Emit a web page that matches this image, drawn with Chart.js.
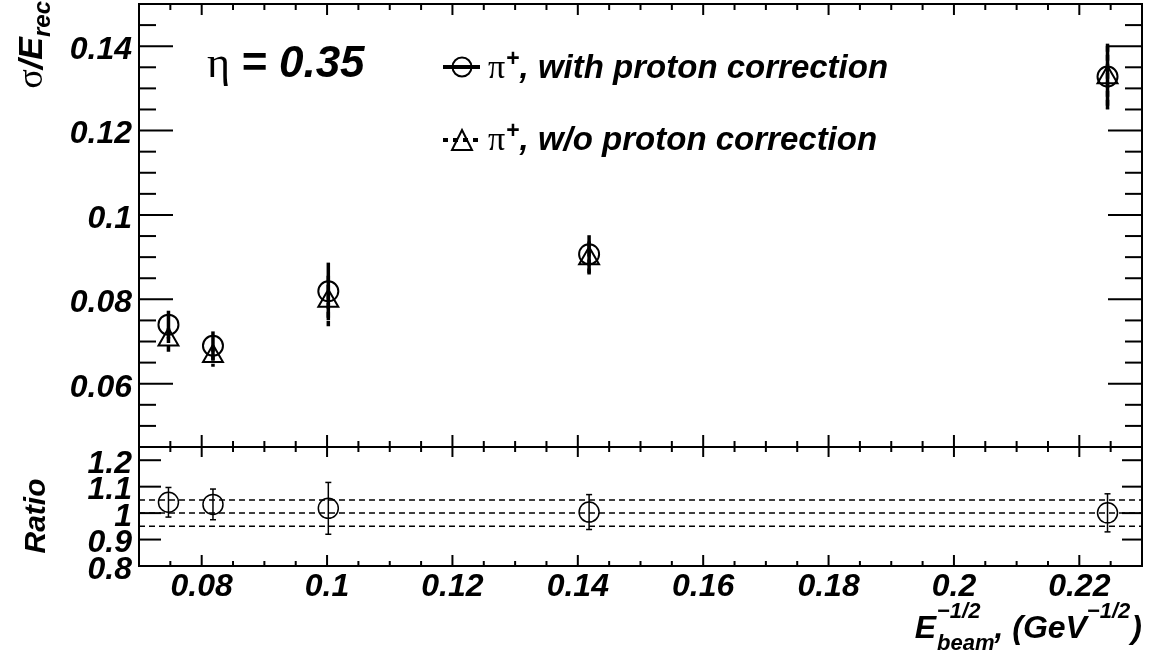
<!DOCTYPE html>
<html>
<head>
<meta charset="utf-8">
<script src="https://cdn.jsdelivr.net/npm/chart.js@4/dist/chart.umd.min.js"></script>
<style>
    html, body { margin: 0; padding: 0; background: #fff; }
    #wrap { position: relative; width: 1149px; height: 653px; }
    #wrap canvas { position: absolute; left: 0; top: 0; }
</style>
</head>
<body>
<div id="wrap">
    <canvas id="topChart" width="1149" height="653"></canvas>
    <canvas id="ratioChart" width="1149" height="653"></canvas>
</div>
<script>
// Values
const xBeam = [0.0747, 0.0818, 0.1002, 0.1418, 0.2245];
const sigmaWith = [0.0740, 0.0690, 0.0819, 0.0907, 0.1328];
const sigmaWithErr = [0.0033, 0.0034, 0.0068, 0.0045, 0.0078];
const sigmaWo = [0.0704, 0.0665, 0.0796, 0.0897, 0.1326];
const sigmaWoErr = [0.0028, 0.0025, 0.0060, 0.0040, 0.0075];
const ratioVals = [1.041, 1.033, 1.018, 1.004, 1.001];
const ratioErr = [0.056, 0.058, 0.098, 0.066, 0.072];
const ratioLines = [1.05, 1.0, 0.95];

// Tick labels
const xTicks = [0.08, 0.1, 0.12, 0.14, 0.16, 0.18, 0.2, 0.22];
const xTickLabels = ["0.08", "0.1", "0.12", "0.14", "0.16", "0.18", "0.2", "0.22"];
const yTicks = [0.06, 0.08, 0.1, 0.12, 0.14];
const yTickLabels = ["0.06", "0.08", "0.1", "0.12", "0.14"];
const ratioTicks = [0.8, 0.9, 1.0, 1.1, 1.2];
const ratioTickLabels = ["0.8", "0.9", "1", "1.1", "1.2"];

// Axis ranges
const X_MIN = 0.07, X_MAX = 0.23;
const Y_MIN = 0.045, Y_MAX = 0.15;
const R_MIN = 0.8, R_MAX = 1.25;

const SANS = '"Liberation Sans", Arial, sans-serif';
const SERIF = '"Liberation Serif", serif';
const F_MAIN = "italic bold 32px " + SANS;
const F_SMALL = "italic bold 22px " + SANS;

// Helpers for text with sub/superscripts
function partWidth(ctx, p) {
    ctx.font = p.font;
    let w = ctx.measureText(p.text).width;
    if (p.sub) {
        ctx.font = p.sub.font;
        w = Math.max(w, ctx.measureText(p.sub.text).width);
    }
    return w + (p.pad || 0);
}

function richWidth(ctx, parts) {
    return parts.reduce((s, p) => s + partWidth(ctx, p), 0);
}

function drawRich(ctx, parts, x, y) {
    let cx = x;
    ctx.textAlign = "left";
    ctx.textBaseline = "alphabetic";
    parts.forEach(p => {
        ctx.font = p.font;
        ctx.fillText(p.text, cx, y + (p.dy || 0));
        if (p.sub) {
            ctx.font = p.sub.font;
            ctx.fillText(p.sub.text, cx, y + p.sub.dy);
        }
        cx += partWidth(ctx, p);
    });
}

function line(ctx, x1, y1, x2, y2) {
    ctx.beginPath();
    ctx.moveTo(x1, y1);
    ctx.lineTo(x2, y2);
    ctx.stroke();
}

// Error bars drawn with the chart scales
const errorBarPlugin = {
    id: "errorBars",
    beforeDatasetsDraw(chart) {
        const ctx = chart.ctx;
        const a = chart.chartArea;
        const xs = chart.scales.x;
        const ys = chart.scales.y;
        ctx.save();
        ctx.beginPath();
        ctx.rect(a.left, a.top, a.right - a.left, a.bottom - a.top);
        ctx.clip();
        ctx.strokeStyle = "#000";
        chart.data.datasets.forEach(ds => {
            if (!ds.errors) return;
            ctx.lineWidth = ds.errorWidth;
            ds.data.forEach((p, i) => {
                const px = xs.getPixelForValue(p.x);
                const y1 = ys.getPixelForValue(p.y + ds.errors[i]);
                const y2 = ys.getPixelForValue(p.y - ds.errors[i]);
                ctx.setLineDash(ds.errorDash || []);
                line(ctx, px, y1, px, y2);
                ctx.setLineDash([]);
                if (ds.capWidth) {
                    line(ctx, px - ds.capWidth, y1, px + ds.capWidth, y1);
                    line(ctx, px - ds.capWidth, y2, px + ds.capWidth, y2);
                }
            });
        });
        ctx.restore();
    }
};

// Frame, ticks, labels and legend of the upper pad
const topFramePlugin = {
    id: "topFrame",
    afterDraw(chart) {
        const ctx = chart.ctx;
        const a = chart.chartArea;
        const xs = chart.scales.x;
        const ys = chart.scales.y;
        ctx.save();
        ctx.strokeStyle = "#000";
        ctx.fillStyle = "#000";
        ctx.lineWidth = 2;
        ctx.strokeRect(a.left, a.top, a.right - a.left, a.bottom - a.top);

        // y ticks, every 0.005
        for (let k = 9; k <= 30; k++) {
            const py = ys.getPixelForValue(k * 0.005);
            const len = k % 4 === 0 ? 34 : 17;
            line(ctx, a.left, py, a.left + len, py);
            line(ctx, a.right, py, a.right - len, py);
        }
        // x ticks, every 0.005
        for (let k = 14; k <= 46; k++) {
            const px = xs.getPixelForValue(k * 0.005);
            const major = k % 4 === 0;
            line(ctx, px, a.top, px, a.top + (major ? 11 : 6));
            line(ctx, px, a.bottom, px, a.bottom - (major ? 12 : 6));
        }

        // y labels
        ctx.font = F_MAIN;
        ctx.textAlign = "right";
        ctx.textBaseline = "middle";
        yTicks.forEach((v, i) => {
            ctx.fillText(yTickLabels[i], a.left - 7, ys.getPixelForValue(v) + 4);
        });

        // y title
        const yTitle = [
            { text: "\u03C3", font: "36px " + SERIF },
            { text: "/E", font: "italic bold 34px " + SANS },
            { text: "rec", font: "italic bold 24px " + SANS, dy: 8 }
        ];
        ctx.save();
        ctx.translate(42, 1);
        ctx.rotate(-Math.PI / 2);
        drawRich(ctx, yTitle, -richWidth(ctx, yTitle), 0);
        ctx.restore();

        // eta label
        drawRich(ctx, [
            { text: "\u03B7", font: "44px " + SERIF, pad: 11 },
            { text: "= 0.35", font: "italic bold 44px " + SANS }
        ], 207, 77);

        // Legend markers
        ctx.lineWidth = 4;
        line(ctx, 443, 67, 480, 67);
        ctx.lineWidth = 2;
        ctx.beginPath();
        ctx.arc(462, 67, 9.5, 0, Math.PI * 2);
        ctx.stroke();

        ctx.lineWidth = 4;
        ctx.setLineDash([5, 5]);
        line(ctx, 443, 140, 478, 140);
        ctx.setLineDash([]);
        ctx.lineWidth = 2;
        ctx.beginPath();
        ctx.moveTo(462, 130);
        ctx.lineTo(472, 150);
        ctx.lineTo(452, 150);
        ctx.closePath();
        ctx.stroke();

        // Legend texts
        const F_LEG = "italic bold 33px " + SANS;
        const F_PLUS = "bold 23px " + SANS;
        drawRich(ctx, [
            { text: "\u03C0", font: "34px " + SERIF, pad: 1 },
            { text: "+", font: F_PLUS, dy: -12 },
            { text: ", with proton correction", font: F_LEG }
        ], 488, 78);
        drawRich(ctx, [
            { text: "\u03C0", font: "34px " + SERIF, pad: 1 },
            { text: "+", font: F_PLUS, dy: -12 },
            { text: ", w/o proton correction", font: F_LEG }
        ], 488, 150);
        ctx.restore();
    }
};

// Frame, ticks and labels of the ratio pad
const ratioFramePlugin = {
    id: "ratioFrame",
    afterDraw(chart) {
        const ctx = chart.ctx;
        const a = chart.chartArea;
        const xs = chart.scales.x;
        const ys = chart.scales.y;
        ctx.save();
        ctx.strokeStyle = "#000";
        ctx.fillStyle = "#000";
        ctx.lineWidth = 2;
        ctx.strokeRect(a.left, a.top, a.right - a.left, a.bottom - a.top);

        ratioTicks.forEach(v => {
            const py = ys.getPixelForValue(v);
            line(ctx, a.left, py, a.left + 22, py);
            line(ctx, a.right, py, a.right - 20, py);
        });
        for (let k = 14; k <= 46; k++) {
            const px = xs.getPixelForValue(k * 0.005);
            const major = k % 4 === 0;
            line(ctx, px, a.top, px, a.top + (major ? 10 : 5));
            line(ctx, px, a.bottom, px, a.bottom - (major ? 11 : 5));
        }

        ctx.font = F_MAIN;
        ctx.textAlign = "right";
        ctx.textBaseline = "middle";
        ratioTicks.forEach((v, i) => {
            ctx.fillText(ratioTickLabels[i], a.left - 7, ys.getPixelForValue(v) + 4);
        });

        ctx.textAlign = "center";
        ctx.textBaseline = "alphabetic";
        xTicks.forEach((v, i) => {
            ctx.fillText(xTickLabels[i], xs.getPixelForValue(v), 596);
        });

        // Ratio title
        ctx.save();
        ctx.translate(45, 516);
        ctx.rotate(-Math.PI / 2);
        ctx.font = "italic bold 30px " + SANS;
        ctx.textAlign = "center";
        ctx.fillText("Ratio", 0, 0);
        ctx.restore();

        // x title
        const xTitle = [
            { text: "E", font: F_MAIN, pad: 1 },
            { text: "\u22121/2", font: F_SMALL, dy: -20, sub: { text: "beam", font: F_SMALL, dy: 12 } },
            { text: ", (GeV", font: F_MAIN },
            { text: "\u22121/2", font: F_SMALL, dy: -20, pad: 1 },
            { text: ")", font: F_MAIN }
        ];
        drawRich(ctx, xTitle, a.right - richWidth(ctx, xTitle), 638);
        ctx.restore();
    }
};

const baseOptions = {
    responsive: false,
    animation: false,
    events: [],
    plugins: { legend: { display: false }, tooltip: { enabled: false } }
};

// Upper pad: sigma/E
new Chart(document.getElementById("topChart"), {
    type: "scatter",
    data: {
        datasets: [
            {
                label: "with proton correction",
                data: xBeam.map((x, i) => ({ x: x, y: sigmaWith[i] })),
                errors: sigmaWithErr,
                errorWidth: 3.5,
                pointStyle: "circle",
                pointRadius: 10,
                pointBorderWidth: 2,
                pointBorderColor: "#000",
                pointBackgroundColor: "rgba(0,0,0,0)"
            },
            {
                label: "w/o proton correction",
                data: xBeam.map((x, i) => ({ x: x, y: sigmaWo[i] })),
                errors: sigmaWoErr,
                errorWidth: 3.5,
                errorDash: [6, 3],
                pointStyle: "triangle",
                pointRadius: 11.5,
                pointBorderWidth: 2,
                pointBorderColor: "#000",
                pointBackgroundColor: "rgba(0,0,0,0)"
            }
        ]
    },
    options: Object.assign({}, baseOptions, {
        layout: { autoPadding: false, padding: { left: 139, right: 7, top: 4, bottom: 206 } },
        scales: {
            x: { type: "linear", min: X_MIN, max: X_MAX, display: false },
            y: { type: "linear", min: Y_MIN, max: Y_MAX, display: false }
        }
    }),
    plugins: [errorBarPlugin, topFramePlugin]
});

// Lower pad: ratio
new Chart(document.getElementById("ratioChart"), {
    type: "scatter",
    data: {
        datasets: [
            {
                label: "ratio",
                data: xBeam.map((x, i) => ({ x: x, y: ratioVals[i] })),
                errors: ratioErr,
                errorWidth: 1.5,
                capWidth: 3,
                pointStyle: "circle",
                pointRadius: 10,
                pointBorderWidth: 1.5,
                pointBorderColor: "#000",
                pointBackgroundColor: "rgba(0,0,0,0)"
            }
        ].concat(ratioLines.map(v => ({
            label: "ref " + v,
            data: [{ x: X_MIN, y: v }, { x: X_MAX, y: v }],
            showLine: true,
            borderColor: "#000",
            borderWidth: 1.5,
            borderDash: [6, 4],
            pointRadius: 0
        })))
    },
    options: Object.assign({}, baseOptions, {
        layout: { autoPadding: false, padding: { left: 139, right: 7, top: 447, bottom: 87 } },
        scales: {
            x: { type: "linear", min: X_MIN, max: X_MAX, display: false },
            y: { type: "linear", min: R_MIN, max: R_MAX, display: false }
        }
    }),
    plugins: [errorBarPlugin, ratioFramePlugin]
});
</script>
</body>
</html>
